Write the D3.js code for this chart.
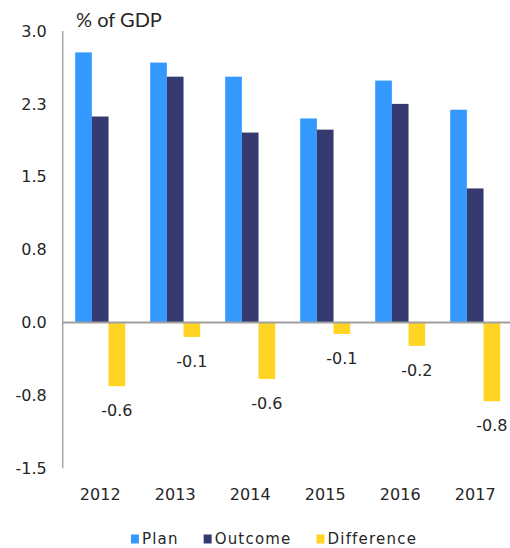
<!DOCTYPE html>
<html>
<head>
<meta charset="utf-8">
<script src="https://cdn.jsdelivr.net/npm/d3@7"></script>
<style>
  html, body { margin: 0; padding: 0; background: #fff; }
  svg { display: block; }
  text { font-family: 'DejaVu Sans', sans-serif; fill: #262626; }
</style>
</head>
<body>
<div class="chart-wrapper"></div>
<script>
const years = ['2012', '2013', '2014', '2015', '2016', '2017'];
const plan = [2.78, 2.675, 2.53, 2.10, 2.49, 2.19];
const outcome = [2.12, 2.53, 1.955, 1.985, 2.25, 1.38];
const difference = [-0.655, -0.148, -0.58, -0.117, -0.24, -0.81];
const differenceLabels = ['-0.6', '-0.1', '-0.6', '-0.1', '-0.2', '-0.8'];
const yTicks = [-1.5, -0.75, 0, 0.75, 1.5, 2.25, 3.0];
const seriesNames = ['Plan', 'Outcome', 'Difference'];
const seriesColors = ['#3399ff', '#353b70', '#ffd422'];

const width = 510;
const height = 548;
const plotLeft = 62.7;
const plotRight = 512.7;
const plotTop = 31;
const plotBottom = 468.3;

let canvas = d3.select('.chart-wrapper').append('svg')
    .attr('width', width)
    .attr('height', height);

let x0 = d3.scaleBand()
    .domain(years)
    .range([plotLeft, plotRight])
    .paddingInner(1 / 3)
    .paddingOuter(1 / 6);

let x1 = d3.scaleBand()
    .domain(seriesNames)
    .range([0, x0.bandwidth()]);

let y = d3.scaleLinear()
    .domain([-1.5, 3.0])
    .range([plotBottom, plotTop]);

let color = d3.scaleOrdinal()
    .domain(seriesNames)
    .range(seriesColors);

let rows = years.map((year, i) => ({
    year: year,
    values: [
        { name: 'Plan', value: plan[i] },
        { name: 'Outcome', value: outcome[i] },
        { name: 'Difference', value: difference[i], label: differenceLabels[i] }
    ]
}));

// y axis, labels only
let yAxis = canvas.append('g')
    .attr('transform', `translate(${plotLeft}, 0)`)
    .call(d3.axisLeft(y)
        .tickValues(yTicks)
        .tickSize(0)
        .tickPadding(16)
        .tickFormat((d) => d.toFixed(1)));
yAxis.select('.domain').remove();
yAxis.selectAll('text')
    .style('font-family', "'DejaVu Sans', sans-serif")
    .style('font-size', '16px')
    .attr('fill', '#262626');

// bars
let groups = canvas.append('g')
    .attr('class', 'bars-group')
    .selectAll('.year-group')
    .data(rows)
    .enter()
    .append('g')
    .attr('class', 'year-group')
    .attr('transform', (row) => `translate(${x0(row.year)}, 0)`);

groups.selectAll('rect')
    .data((row) => row.values)
    .enter()
    .append('rect')
    .attr('x', (d) => x1(d.name))
    .attr('width', x1.bandwidth())
    .attr('y', (d) => y(Math.max(0, d.value)))
    .attr('height', (d) => Math.abs(y(d.value) - y(0)))
    .attr('fill', (d) => color(d.name));

groups.selectAll('.diff-label')
    .data((row) => row.values.filter((d) => d.label))
    .enter()
    .append('text')
    .attr('class', 'diff-label')
    .attr('x', (d) => x1(d.name) + x1.bandwidth() / 2)
    .attr('y', (d) => y(d.value) + 30)
    .attr('text-anchor', 'middle')
    .style('font-size', '16px')
    .text((d) => d.label);

// axis lines
canvas.append('line')
    .attr('x1', plotLeft).attr('x2', plotLeft)
    .attr('y1', y(3.0)).attr('y2', y(-1.5))
    .attr('stroke', '#a6a6a6')
    .attr('stroke-width', 1.5);

canvas.append('line')
    .attr('x1', plotLeft).attr('x2', plotRight)
    .attr('y1', y(0)).attr('y2', y(0))
    .attr('stroke', '#a0a0a0')
    .attr('stroke-width', 2);

// year labels
let xAxis = canvas.append('g')
    .attr('transform', `translate(0, ${plotBottom})`)
    .call(d3.axisBottom(x0).tickSize(0).tickPadding(20));
xAxis.select('.domain').remove();
xAxis.selectAll('text')
    .style('font-family', "'DejaVu Sans', sans-serif")
    .style('font-size', '16px')
    .attr('fill', '#262626');

// title
canvas.append('text')
    .attr('x', 76)
    .attr('y', 27)
    .style('font-family', "Lato, 'Open Sans', sans-serif")
    .style('font-size', '20px')
    .text('% of GDP');

// legend
let legend = canvas.append('g')
    .attr('class', 'legend');

let items = legend.selectAll('.legend-item')
    .data(seriesNames)
    .enter()
    .append('g')
    .attr('class', 'legend-item');

items.append('rect')
    .attr('x', 0)
    .attr('y', 534.5)
    .attr('width', 8)
    .attr('height', 9)
    .attr('fill', (d) => color(d));

items.append('text')
    .attr('x', 11)
    .attr('y', 544)
    .style('font-size', '15px')
    .style('letter-spacing', '1.2px')
    .text((d) => d);

let legendGap = 25;
let offsets = [];
let run = 0;
items.each(function () {
    offsets.push(run);
    run += this.getBBox().width + legendGap;
});
let legendWidth = run - legendGap;
let legendStart = 274 - legendWidth / 2;
items.attr('transform', (d, i) => `translate(${legendStart + offsets[i]}, 0)`);
</script>
</body>
</html>
